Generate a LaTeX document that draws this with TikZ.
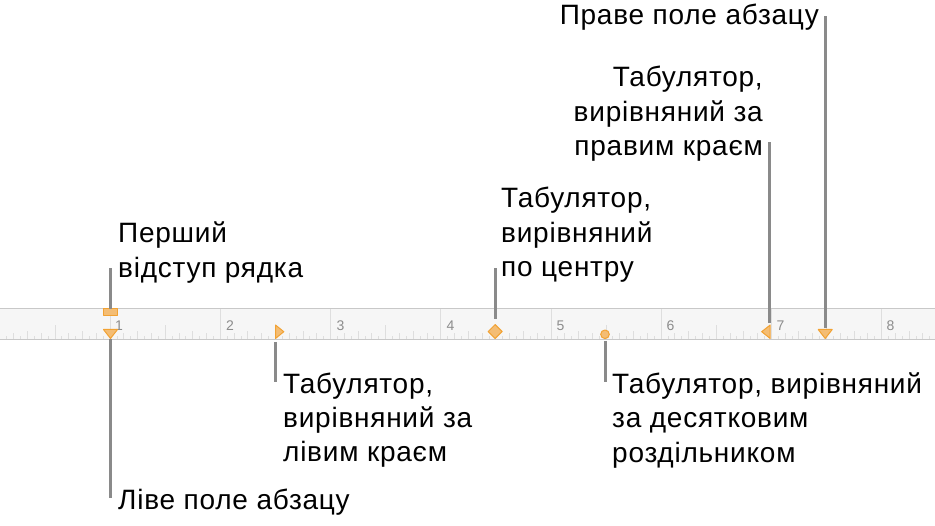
\documentclass[tikz,border=0pt]{standalone}
\usepackage{fontspec}
\setmainfont[LetterSpace=2.7]{Liberation Sans}
\newfontfamily\numfont{Liberation Sans}
\definecolor{marker}{HTML}{F4BD74}
\definecolor{markerline}{HTML}{F2A233}
\definecolor{leader}{HTML}{8A8A8A}
\definecolor{rulerbg}{HTML}{F6F6F6}
\definecolor{rulerline}{HTML}{C8C8C8}
\definecolor{tickcol}{HTML}{DEDEDE}
\definecolor{numcol}{HTML}{8C8C8C}
\tikzset{
  x=1pt,y=-1pt,
  lbl/.style={font=\fontsize{28}{34.3}\selectfont,align=left,anchor=north west,inner sep=0pt,text=black},
  lblr/.style={font=\fontsize{28}{34.3}\selectfont,align=right,anchor=north east,inner sep=0pt,text=black},
  num/.style={font=\numfont\fontsize{14}{14}\selectfont,text=numcol,inner sep=0pt},
  lead/.style={draw=leader,line width=3pt},
  mk/.style={fill=marker,draw=markerline,line width=1pt,line join=round},
}
\begin{document}
\begin{tikzpicture}
\useasboundingbox (0,0) rectangle (935,526);
\fill[rulerbg] (0,308.5) rectangle (935,339);
\draw[rulerline,line width=1pt] (0,308.5) -- (935,308.5);
\draw[rulerline,line width=1pt] (0,339.3) -- (935,339.3);
% ticks
\foreach \i in {-15,...,119}{
  \pgfmathsetmacro{\tx}{110.2+\i*110.2/16}
  \pgfmathtruncatemacro{\m}{mod(\i+160,16)}
  \pgfmathtruncatemacro{\h}{mod(\i+160,2)}
  \pgfmathtruncatemacro{\q}{mod(\i+160,4)}
  \pgfmathsetmacro{\ln}{\m==0 ? 30 : (\m==8 ? 14 : (\q==0 ? 8 : (\h==0 ? 6 : 3)))}
  \draw[tickcol,line width=1pt] (\tx,339) -- ++(0,-\ln);
}
\foreach \n/\px in {1/119,2/230,3/340.5,4/450.5,5/560.5,6/670.5,7/780.5,8/890.5}
  \node[num] (n\n) at (\px,325.5) {\n};
% markers
\path[mk] (103.2,309) rectangle (117.5,315.3);
\path[mk] (103.5,329.5) -- (117.5,329.5) -- (110.5,338.5) -- cycle;
\path[mk] (275.5,325) -- (283.8,331.7) -- (275.5,338.5) -- cycle;
\path[mk] (495.2,324.6) -- (502.2,331.5) -- (495.2,338.5) -- (488.2,331.5) -- cycle;
\path[mk] (605,334.3) circle (4.3);
\path[mk] (770.2,325) -- (761.7,331.7) -- (770.2,338.5) -- cycle;
\path[mk] (818.2,329.5) -- (832.2,329.5) -- (825.2,338.5) -- cycle;
% coordinates
\coordinate (m1) at (110.5,309);
\coordinate (m2) at (110.5,339);
\coordinate (m3) at (275.5,342);
\coordinate (m4) at (495,319);
\coordinate (m5) at (605,341);
\coordinate (m6) at (769.3,323);
\coordinate (m7) at (825.4,328);
\coordinate (e1) at (110.5,268);
\coordinate (e2) at (110.5,498);
\coordinate (e3) at (275.5,382);
\coordinate (e4) at (495,268);
\coordinate (e5) at (605,382);
\coordinate (e6) at (769.3,142);
\coordinate (e7) at (825.4,16);
\draw[lead] (m1) -- (e1);
\draw[lead] (m2) -- (e2);
\draw[lead] (m3) -- (e3);
\draw[lead] (m4) -- (e4);
\draw[lead] (m5) -- (e5);
\draw[lead] (m6) -- (e6);
\draw[lead] (m7) -- (e7);
% labels
\node[lbl] (t1) at (118,222) {Перший\\відступ рядка};
\node[lbl] (t2) at (118,489) {Ліве поле абзацу};
\node[lbl] (t3) at (283,372.5) {Табулятор,\\вирівняний за\\лівим краєм};
\node[lbl] (t4) at (501,187) {Табулятор,\\вирівняний\\по центру};
\node[lbl] (t5) at (612,372.5) {Табулятор, вирівняний\\за десятковим\\роздільником};
\node[lblr] (t6) at (763,66) {Табулятор,\\вирівняний за\\правим краєм};
\node[lblr] (t7) at (819,4) {Праве поле абзацу};
\end{tikzpicture}
\end{document}
